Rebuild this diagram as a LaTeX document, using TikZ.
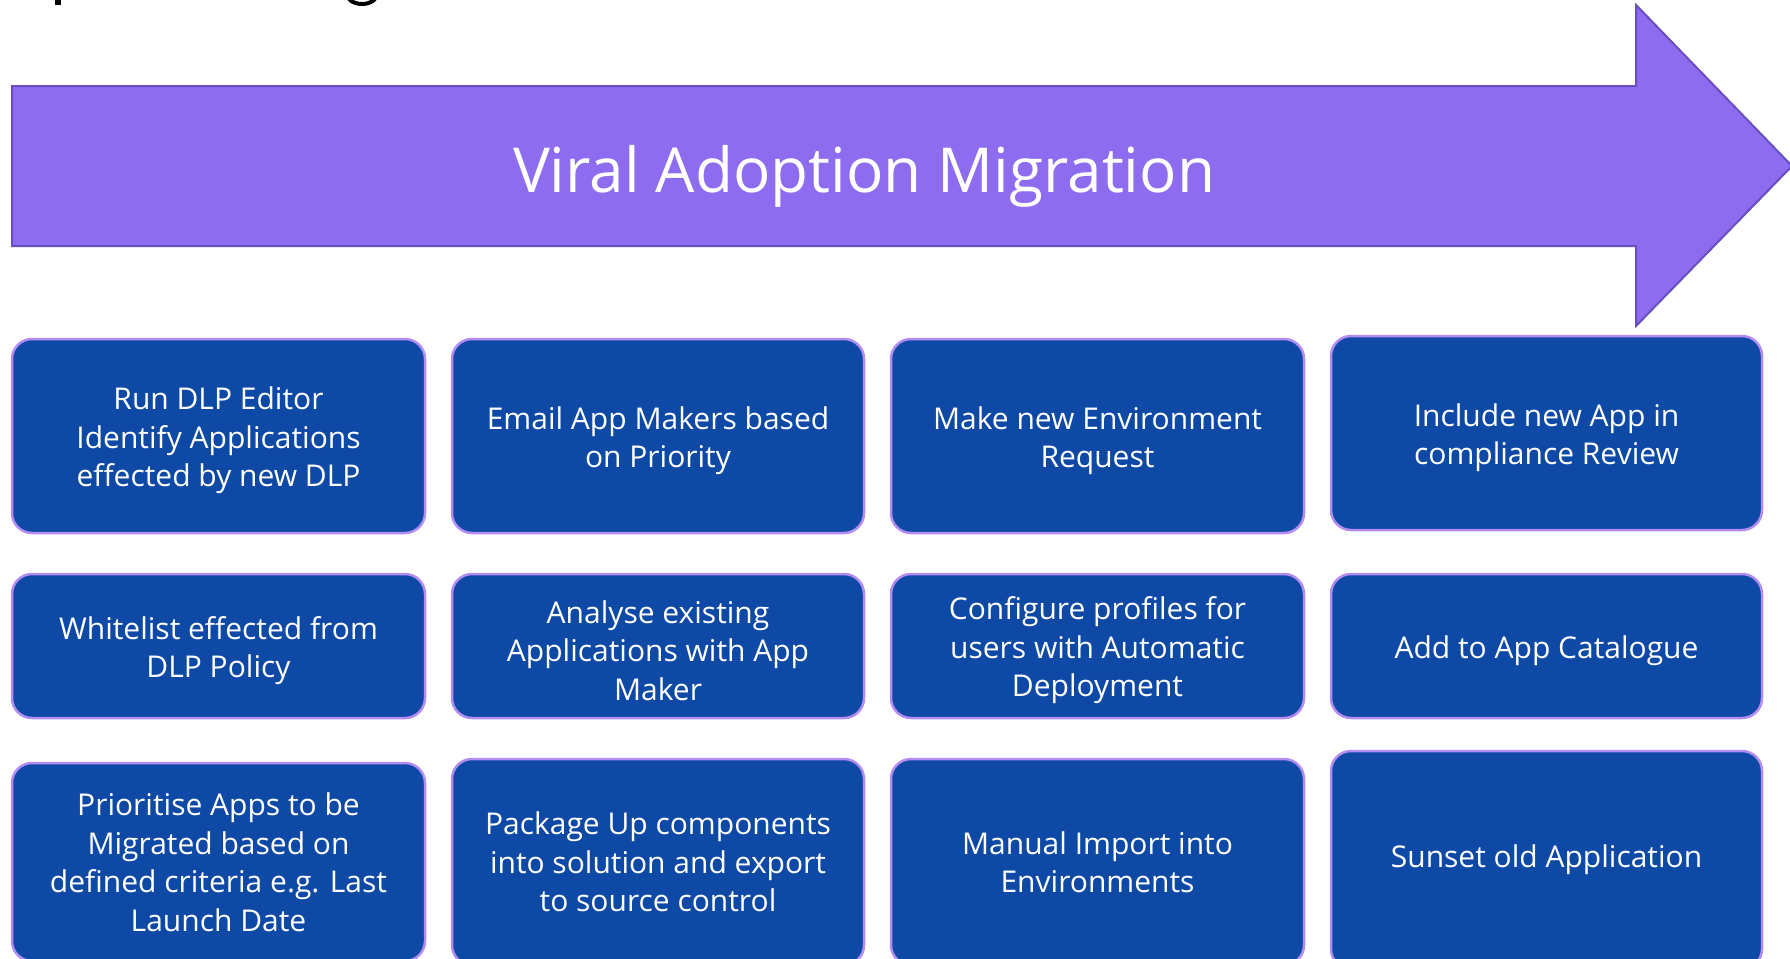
\documentclass[tikz,border=0pt]{standalone}
\usepackage{fontspec}
\setmainfont{Open Sans}
\definecolor{arrowfill}{RGB}{142,108,240}
\definecolor{arrowline}{RGB}{104,78,190}
\definecolor{boxfill}{RGB}{13,73,165}
\definecolor{boxline}{RGB}{178,140,240}
\newcommand{\tstrut}{\rule{0pt}{32pt}}
\tikzset{
  stepbox/.style={rectangle, rounded corners=20pt, fill=boxfill, draw=boxline,
    line width=2.5pt, text=white, align=center, inner sep=0pt,
    font=\fontsize{30}{38.5}\selectfont},
}
\begin{document}
\begin{tikzpicture}[x=1pt,y=-1pt]
\useasboundingbox (0,0) rectangle (1790,958);
\clip (0,0) rectangle (1790,958);
% cropped title fragments at the top
\fill[black] (55,0) rectangle (61,5);
\draw[black, line width=4pt] (362,-6) ellipse (15 and 10);
% big arrow
\draw[fill=arrowfill, draw=arrowline, line width=2pt, line join=miter]
  (12,86) -- (1636,86) -- (1636,5) -- (1792,166) -- (1636,326) -- (1636,246) -- (12,246) -- cycle;
\node[text=white, font=\fontsize{62}{74}\selectfont] (title) at (864,176) {Viral Adoption Migration};
% column centres: 218.5, 658, 1097.5, 1546.5
% row 1
\node[stepbox, minimum width=413pt, minimum height=194pt] (a1) at (218.5,436)
  {\tstrut Run DLP Editor\\Identify Applications\\effected by new DLP};
\node[stepbox, minimum width=412pt, minimum height=194pt] (b1) at (658,436)
  {\tstrut Email App Makers based\\on Priority};
\node[stepbox, minimum width=413pt, minimum height=194pt] (c1) at (1097.5,436)
  {\tstrut Make new Environment\\Request};
\node[stepbox, minimum width=431pt, minimum height=194pt] (d1) at (1546.5,433)
  {\tstrut Include new App in\\compliance Review};
% row 2
\node[stepbox, minimum width=413pt, minimum height=144pt] (a2) at (218.5,646)
  {\tstrut Whitelist effected from\\DLP Policy};
\node[stepbox, minimum width=412pt, minimum height=144pt] (b2) at (658,646)
  {\tstrut Analyse existing\\Applications with App\\Maker};
\node[stepbox, minimum width=413pt, minimum height=144pt] (c2) at (1097.5,646)
  {\tstrut Configure profiles for\\users with Automatic\\Deployment};
\node[stepbox, minimum width=431pt, minimum height=144pt] (d2) at (1546.5,646)
  {\tstrut Add to App Catalogue};
% row 3
\node[stepbox, minimum width=413pt, minimum height=198pt] (a3) at (218.5,862)
  {Prioritise Apps to be\\Migrated based on\\defined criteria e.g. Last\\Launch Date};
\node[stepbox, minimum width=412pt, minimum height=206pt] (b3) at (658,862)
  {Package Up components\\into solution and export\\to source control};
\node[stepbox, minimum width=413pt, minimum height=206pt] (c3) at (1097.5,862)
  {Manual Import into\\Environments};
\node[stepbox, minimum width=431pt, minimum height=218pt] (d3) at (1546.5,860)
  {Sunset old Application};
\end{tikzpicture}
\end{document}
